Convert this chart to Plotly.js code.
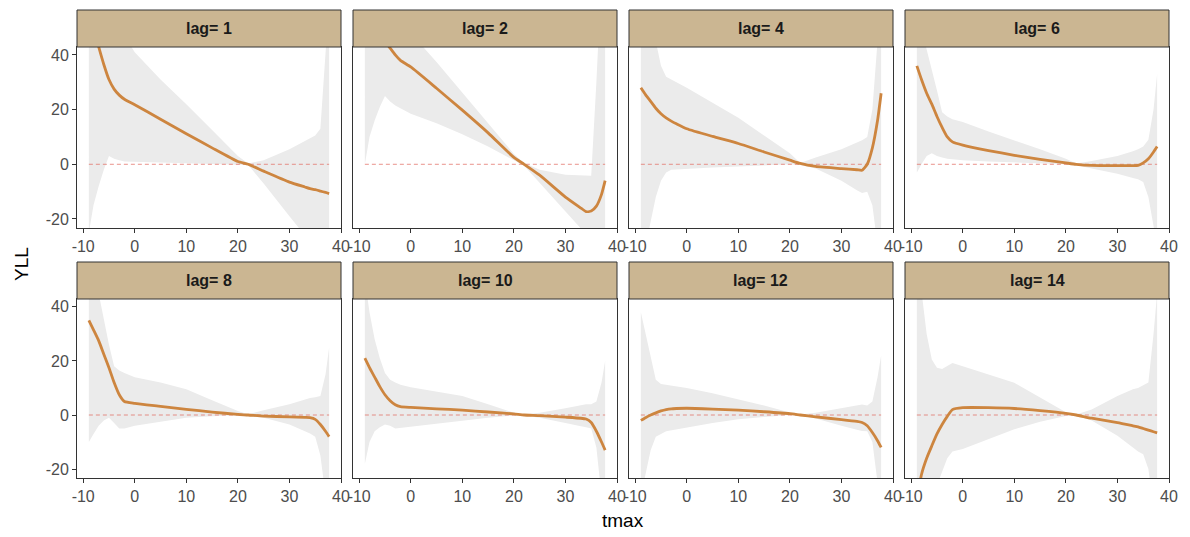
<!DOCTYPE html>
<html>
<head>
<meta charset="utf-8">
<script src="https://cdn.plot.ly/plotly-3.0.1.min.js"></script>
<style>html,body{margin:0;padding:0;background:#fff;}#chart{width:1190px;height:537px;}</style>
</head>
<body>
<div id="chart"></div>
<script>
// ---- data ----
const LAGS = [1, 2, 4, 6, 8, 10, 12, 14];
const TMAX = [-8.9, -8, -7, -6, -5, -4, -3, -2, 0, 5, 10, 15, 20, 22, 25, 30, 33, 34, 35, 36, 37, 37.7];
const REF_Y = 0;
const X_TICKS = [-10, 0, 10, 20, 30, 40];
const Y_TICKS = [-20, 0, 20, 40];

const fit_lag1  = [58, 50, 43, 36.5, 31, 27.5, 25.3, 23.8, 21.8, 16.5, 11.2, 6, 1, 0, -2.5, -6.5, -8.3, -8.9, -9.3, -9.8, -10.3, -10.7];
const up_lag1   = [80, 75, 70, 65, 60, 55, 50, 47, 41, 31, 22, 12.5, 3, 0.3, 1.5, 5.5, 8.5, 9.5, 10.5, 13, 40, 60];
const lo_lag1   = [-25, -15, -8, -2, 3, 2, 1.5, 1, 0.8, 0.7, 0.5, 0.3, -0.2, -0.3, -7, -19, -26, -28, -30, -33, -38, -45];

const fit_lag2  = [62, 57, 52, 48, 45, 42.5, 40, 38, 35.6, 27.8, 19.8, 11.5, 2.5, 0, -4, -12, -16, -17.3, -17.1, -15.3, -11, -6];
const up_lag2   = [75, 75, 75, 70, 65, 60, 56, 53, 48, 37.4, 26.2, 15, 3.8, 0.5, -2, -3.8, -4, -4.1, -4.2, 30, 70, 80];
const lo_lag2   = [0, 10, 16, 21, 25, 23, 21.5, 20.5, 18.5, 15, 11, 6.5, 1.5, -0.5, -6.8, -17.3, -23.5, -25, -28, -32, -35, -40];

const fit_lag4  = [28, 25.5, 23, 20.5, 18.5, 17, 15.8, 14.8, 13, 10.2, 7.6, 4.5, 1.5, 0.3, -0.8, -1.6, -2, -2.2, 0, 6, 16, 26];
const up_lag4   = [70, 60, 50, 45, 36, 32, 31, 30, 28, 22.5, 17, 10.5, 4, 0.5, 2.5, 5.5, 8, 8.8, 10, 20, 45, 70];
const lo_lag4   = [-40, -30, -20, -12, -6, -3, -2, -1.8, -1.6, -1.2, -0.8, -0.5, 0, -0.3, -1.5, -6, -9.5, -10.5, -10, -15, -30, -40];

const fit_lag6  = [36, 31, 26, 22, 17.5, 13.5, 10, 8.2, 7, 5, 3.3, 1.8, 0.5, 0, -0.4, -0.5, -0.5, -0.4, 0.5, 2, 4.5, 6.5];
const up_lag6   = [60, 50, 42, 35, 27, 19, 17.5, 16.5, 15.5, 12, 8.8, 5.5, 2, 0.3, 1.2, 3, 4.8, 5.5, 6.5, 9, 20, 33];
const lo_lag6   = [-3, 0, 3, 4, 3, 2.5, 2, 1.8, 1.5, 1, 0.6, 0.3, 0, -0.3, -1.5, -3.5, -5, -5.5, -6.5, -12, -22, -30];

const fit_lag8  = [35, 31.5, 27.5, 22.5, 17.5, 12, 7.5, 5, 4.3, 3.2, 2.1, 1.1, 0.2, 0, -0.4, -0.7, -0.9, -1, -1.6, -3.5, -6, -8];
const up_lag8   = [60, 52, 45, 35, 26, 18, 16.5, 15.5, 14, 12, 9.5, 5.5, 1.5, 0.3, 1.8, 4, 5.8, 6.3, 6.6, 7, 15, 25];
const lo_lag8   = [-10, -7, -4, -2, -1, -3, -5, -5, -4, -2.5, -1, -0.5, -0.1, -0.3, -1, -3.5, -6, -6.8, -8, -15, -30, -40];

const fit_lag10 = [21, 17.5, 14, 10.5, 7.5, 5.3, 3.8, 3.1, 2.8, 2.3, 1.8, 1.1, 0.4, 0, -0.2, -0.8, -1.2, -1.5, -2.8, -6, -10, -13];
const up_lag10  = [50, 38, 28, 21, 15.5, 13, 12, 11.2, 10.3, 8.7, 7, 4, 0.8, 0.2, 0.8, 2.5, 3.7, 4, 4, 5, 12, 20];
const lo_lag10  = [-18, -10, -6, -4.5, -3.5, -4, -5, -5, -4.5, -3.3, -2.1, -1, -0.2, -0.2, -1, -3, -4.2, -4.5, -5, -12, -30, -40];

const fit_lag12 = [-2, -1, 0, 0.8, 1.5, 2, 2.3, 2.4, 2.5, 2.2, 1.8, 1.2, 0.5, 0, -0.7, -1.7, -2.4, -2.8, -4, -6.5, -9.5, -12];
const up_lag12  = [38, 30, 22, 13, 11.5, 11.2, 11, 10.7, 10, 8, 5.7, 3.5, 0.9, 0.2, 0.8, 2.5, 3.7, 3.9, 3.5, 5, 14, 22];
const lo_lag12  = [-30, -22, -13, -8, -7, -6, -5.5, -5.2, -4.6, -3, -1.6, -0.7, 0, -0.2, -1.3, -4, -5.5, -5.9, -6, -10, -25, -40];

const fit_lag14 = [-32, -22, -16, -11.4, -7, -3.5, -0.5, 2, 2.7, 2.7, 2.4, 1.6, 0.6, 0, -1.2, -2.8, -4, -4.4, -5, -5.6, -6.2, -6.6];
const up_lag14  = [60, 45, 30, 20.5, 17.5, 17, 18, 19.2, 18, 15, 11.9, 6.5, 1, 0.2, 2, 7, 9.5, 10, 11, 12, 30, 45];
const lo_lag14  = [-50, -45, -40, -33, -26, -21, -16, -13.5, -12.6, -9, -5.3, -2.5, -0.4, -0.2, -2, -7.7, -12, -13.5, -14.5, -20, -35, -45];

const FITS  = [fit_lag1, fit_lag2, fit_lag4, fit_lag6, fit_lag8, fit_lag10, fit_lag12, fit_lag14];
const UPPER = [up_lag1, up_lag2, up_lag4, up_lag6, up_lag8, up_lag10, up_lag12, up_lag14];
const LOWER = [lo_lag1, lo_lag2, lo_lag4, lo_lag6, lo_lag8, lo_lag10, lo_lag12, lo_lag14];

// ---- layout geometry (pixels) ----
const W = 1190, H = 537;
const COLS = [[77, 341], [353, 617], [629, 893], [905, 1169]];
const ROWS = [{strip: [10, 47], plot: [47, 228]}, {strip: [262, 299], plot: [299, 478]}];
const FONT = 'Liberation Sans, Arial, Helvetica, sans-serif';

const traces = [];
const layout = {
  width: W, height: H,
  margin: {l: 0, r: 0, t: 0, b: 0},
  paper_bgcolor: '#ffffff', plot_bgcolor: '#ffffff',
  showlegend: false,
  font: {family: FONT},
  shapes: [], annotations: []
};

LAGS.forEach((lag, i) => {
  const r = Math.floor(i / 4), c = i % 4;
  const n = i + 1;
  const xa = 'x' + (n > 1 ? n : ''), ya = 'y' + (n > 1 ? n : '');
  const xk = 'xaxis' + (n > 1 ? n : ''), yk = 'yaxis' + (n > 1 ? n : '');
  const [x0, x1] = COLS[c];
  const [py0, py1] = ROWS[r].plot;
  const [sy0, sy1] = ROWS[r].strip;

  layout[xk] = {
    domain: [x0 / W, x1 / W], anchor: ya,
    range: [-11.2, 40], tickvals: X_TICKS, ticktext: X_TICKS.map(String),
    showgrid: false, zeroline: false,
    showline: true, mirror: true, linecolor: '#333333', linewidth: 1,
    ticks: 'outside', ticklen: 4, tickcolor: '#333333', tickwidth: 1,
    tickfont: {size: 16, color: '#4d4d4d', family: FONT}
  };
  layout[yk] = {
    domain: [1 - py1 / H, 1 - py0 / H], anchor: xa,
    range: [-23.3, 42.9], tickvals: Y_TICKS, ticktext: Y_TICKS.map(String),
    showgrid: false, zeroline: false,
    showline: true, mirror: true, linecolor: '#333333', linewidth: 1,
    ticks: c === 0 ? 'outside' : '', ticklen: 4, tickcolor: '#333333', tickwidth: 1,
    showticklabels: c === 0,
    tickfont: {size: 16, color: '#4d4d4d', family: FONT}
  };

  // confidence ribbon (closed polygon upper -> reversed lower)
  traces.push({
    type: 'scatter', mode: 'lines', xaxis: xa, yaxis: ya,
    x: TMAX.concat(TMAX.slice().reverse()),
    y: UPPER[i].concat(LOWER[i].slice().reverse()),
    fill: 'toself', fillcolor: '#EBEBEB',
    line: {width: 0, color: 'rgba(0,0,0,0)'}, hoverinfo: 'skip'
  });
  // reference line at zero
  traces.push({
    type: 'scatter', mode: 'lines', xaxis: xa, yaxis: ya,
    x: [TMAX[0], TMAX[TMAX.length - 1]], y: [REF_Y, REF_Y],
    line: {color: 'rgba(225,110,100,0.75)', width: 1, dash: '4px,3px'}
  });
  // fitted curve
  traces.push({
    type: 'scatter', mode: 'lines', xaxis: xa, yaxis: ya,
    x: TMAX, y: FITS[i],
    line: {color: '#CD853F', width: 2.8, shape: 'spline', smoothing: 0.5}
  });

  // strip
  layout.shapes.push({
    type: 'rect', xref: 'paper', yref: 'paper',
    x0: x0 / W, x1: x1 / W, y0: 1 - sy1 / H, y1: 1 - sy0 / H,
    fillcolor: '#CBB692', line: {color: '#333333', width: 1}, layer: 'above'
  });
  layout.annotations.push({
    xref: 'paper', yref: 'paper', x: (x0 + x1) / 2 / W, y: 1 - (sy0 + sy1) / 2 / H,
    text: '<b>lag= ' + lag + '</b>', showarrow: false,
    xanchor: 'center', yanchor: 'middle',
    font: {size: 16, color: '#1a1a1a', family: FONT}
  });
});

layout.annotations.push({
  xref: 'paper', yref: 'paper', x: 623 / W, y: 1 - 520 / H,
  text: 'tmax', showarrow: false, xanchor: 'center', yanchor: 'middle',
  font: {size: 19, color: '#000000', family: FONT}
});
layout.annotations.push({
  xref: 'paper', yref: 'paper', x: 22 / W, y: 1 - 264 / H,
  text: 'YLL', showarrow: false, textangle: -90, xanchor: 'center', yanchor: 'middle',
  font: {size: 19, color: '#000000', family: FONT}
});

Plotly.newPlot('chart', traces, layout, {displayModeBar: false, staticPlot: true});
</script>
</body>
</html>
